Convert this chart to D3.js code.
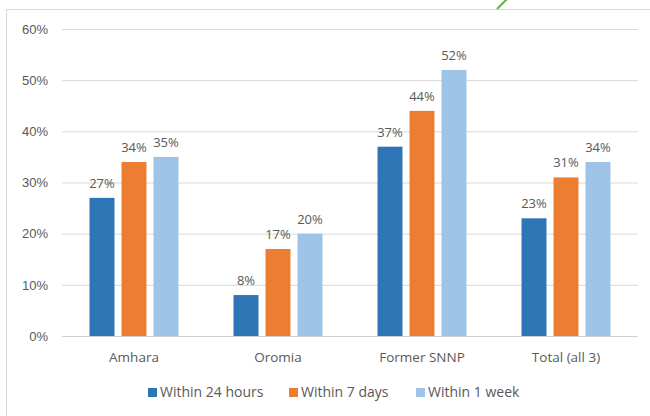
<!DOCTYPE html>
<html>
<head>
<meta charset="utf-8">
<script src="https://cdn.jsdelivr.net/npm/d3@7"></script>
<style>
  body { margin: 0; background: #fff; }
  svg { display: block; font-family: "Open Sans", "Noto Sans", sans-serif; }
</style>
</head>
<body>
<svg id="svg"></svg>
<script>
const regions = ["Amhara", "Oromia", "Former SNNP", "Total (all 3)"];
const series = ["Within 24 hours", "Within 7 days", "Within 1 week"];
const within24h = [27, 8, 37, 23];
const within7d = [34, 17, 44, 31];
const within1wk = [35, 20, 52, 34];
const yTicks = [0, 10, 20, 30, 40, 50, 60];

const colors = ["#2E75B6", "#ED7D31", "#9DC3E6"];
const values = [within24h, within7d, within1wk];

const width = 650, height = 416;
const margin = { top: 29, right: 12, bottom: 80, left: 62 };

const svg = d3.select('#svg')
    .attr('width', width)
    .attr('height', height)
    .attr('viewBox', [0, 0, width, height]);

// chart frame (runs off the right/bottom edge in the reference)
svg.append('rect')
    .attr('x', 6.5)
    .attr('y', 9.5)
    .attr('width', width)
    .attr('height', height)
    .attr('fill', 'none')
    .attr('stroke', '#d9d9d9');

// little green stroke poking in at the top
svg.append('line')
    .attr('x1', 497).attr('y1', 9)
    .attr('x2', 507).attr('y2', -1)
    .attr('stroke', '#70AD47')
    .attr('stroke-width', 2);

const x0 = d3.scaleBand()
    .domain(regions)
    .range([margin.left, width - margin.right]);

const x1 = d3.scaleBand()
    .domain(series)
    .range([-48, 48])
    .paddingInner(0.22)
    .paddingOuter(0.11);

const y = d3.scaleLinear()
    .domain([0, 60])
    .range([height - margin.bottom, margin.top]);

// gridlines + y labels
const yAxis = svg.append('g')
    .attr('transform', `translate(${margin.left},0)`)
    .call(d3.axisLeft(y).tickValues(yTicks).tickFormat(d => d + '%')
        .tickSize(-(width - margin.left - margin.right)).tickPadding(14));
yAxis.select('.domain').remove();
yAxis.selectAll('line').attr('stroke', '#d9d9d9');
yAxis.selectAll('text')
    .attr('fill', '#595959')
    .attr('font-size', 13);

// bars
const group = svg.append('g')
    .selectAll('g')
    .data(regions)
    .join('g')
        .attr('transform', d => `translate(${x0(d) + x0.bandwidth() / 2},0)`);

const bar = group.selectAll('g')
    .data((d, i) => series.map((s, j) => ({ s, j, v: values[j][i] })))
    .join('g');

bar.append('rect')
    .attr('x', d => x1(d.s))
    .attr('width', x1.bandwidth())
    .attr('y', d => y(d.v))
    .attr('height', d => y(0) - y(d.v))
    .attr('fill', d => colors[d.j]);

bar.append('text')
    .attr('x', d => x1(d.s) + x1.bandwidth() / 2)
    .attr('y', d => y(d.v) - 10)
    .attr('text-anchor', 'middle')
    .attr('font-size', 13)
    .attr('fill', '#595959')
    .text(d => d.v + '%');

// x axis line
svg.append('line')
    .attr('x1', margin.left).attr('x2', width - margin.right)
    .attr('y1', y(0) + 0.5).attr('y2', y(0) + 0.5)
    .attr('stroke', '#d0d0d0');

svg.append('g')
    .selectAll('text')
    .data(regions)
    .join('text')
        .attr('x', d => x0(d) + x0.bandwidth() / 2)
        .attr('y', y(0) + 26)
        .attr('text-anchor', 'middle')
        .attr('font-size', 13.5)
        .attr('fill', '#595959')
        .text(d => d);

// legend
const legendX = [148, 289, 416];
const legend = svg.append('g')
    .selectAll('g')
    .data(series)
    .join('g')
        .attr('transform', (d, i) => `translate(${legendX[i]},392)`);

legend.append('rect')
    .attr('x', 0).attr('y', -4)
    .attr('width', 9).attr('height', 9)
    .attr('fill', (d, i) => colors[i]);

legend.append('text')
    .attr('x', 12)
    .attr('dy', '0.35em')
    .attr('font-size', 14)
    .attr('fill', '#595959')
    .text(d => d);
</script>
</body>
</html>
